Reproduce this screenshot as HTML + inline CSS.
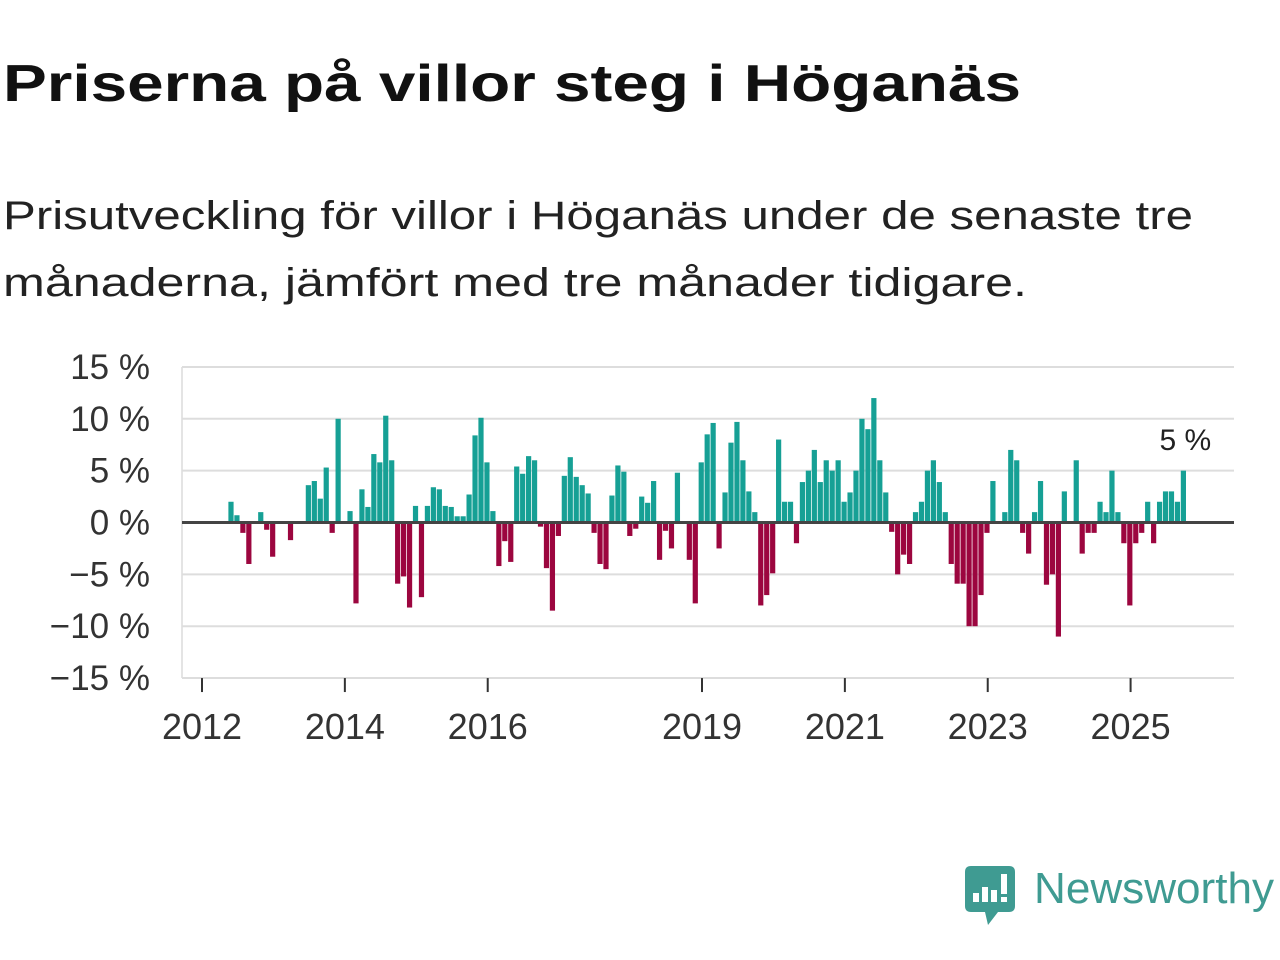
<!DOCTYPE html>
<html><head><meta charset="utf-8"><style>
body{margin:0;background:#fff;}
svg{display:block;font-family:"Liberation Sans",sans-serif;}
</style></head><body>
<svg width="1280" height="960" viewBox="0 0 1280 960">
<text x="3" y="101" font-size="52" font-weight="bold" fill="#111" textLength="1018" lengthAdjust="spacingAndGlyphs">Priserna på villor steg i Höganäs</text>
<text x="3" y="229" font-size="40" fill="#222" textLength="1190" lengthAdjust="spacingAndGlyphs">Prisutveckling för villor i Höganäs under de senaste tre</text>
<text x="3" y="296" font-size="40" fill="#222" textLength="1024" lengthAdjust="spacingAndGlyphs">månaderna, jämfört med tre månader tidigare.</text>
<g id="plot"></g>
<g>
<path d="M971 866 H1009 Q1015 866 1015 872 V906 Q1015 912 1009 912 H998 L988 925 L985 912 H971 Q965 912 965 906 V872 Q965 866 971 866 Z" fill="#3f9b92"/>
<rect x="973" y="893" width="6" height="9" fill="#fff"/>
<rect x="982" y="887" width="6" height="15" fill="#fff"/>
<rect x="991" y="890" width="6" height="12" fill="#fff"/>
<rect x="1001" y="874" width="6" height="20" fill="#fff"/>
<rect x="1001" y="897" width="6" height="5" fill="#fff"/>
<text x="1034" y="903" font-size="44" fill="#3f9b92" textLength="240" lengthAdjust="spacingAndGlyphs">Newsworthy</text>
</g>
</svg>
<script>
const yTicks = [15, 10, 5, 0, -5, -10, -15];
const yTickLabels = ["15 %", "10 %", "5 %", "0 %", "−5 %", "−10 %", "−15 %"];
const xTicks = [2012, 2014, 2016, 2019, 2021, 2023, 2025];
const startYear = 2012;
const startMonth = 5;
const values = [2,0.7,-1,-4,0,1,-0.7,-3.3,0,0,-1.7,0,0,3.6,4,2.3,5.3,-1,10,0,1.1,-7.8,3.2,1.5,6.6,5.8,10.3,6,
-5.9,-5.2,-8.2,1.6,-7.2,1.6,3.4,3.2,1.6,1.5,0.6,0.6,2.7,8.4,10.1,5.8,1.1,-4.2,-1.8,-3.8,5.4,4.7,6.4,6,-0.4,-4.4,-8.5,-1.3,4.5,6.3,4.4,3.6,2.8,
-1,-4,-4.5,2.6,5.5,4.9,-1.3,-0.6,2.5,1.9,4,-3.6,-0.8,-2.5,4.8,-0.1,-3.6,-7.8,5.8,8.5,9.6,-2.5,2.9,7.7,9.7,6,3,1,-8,-7,-4.9,8,
2,2,-2,3.9,5,7,3.9,6,5,6,2,2.9,5,10,9,12,6,2.9,-0.9,-5,-3.1,-4,1,2,5,6,3.9,1,-4,-5.9,-5.9,-10,
-10,-7,-1,4,0,1,7,6,-1,-3,1,4,-6,-5,-11,3,0,6,-3,-1,-1,2,1,5,1,-2,-8,-2,-1,2,-2,2,3,3,2,5];
const lastLabel = "5 %";

const NS = "http://www.w3.org/2000/svg";
const plot = document.getElementById("plot");
function xScale(yr){ return 202 + (yr - 2012) * 71.43; }
function yScale(v){ return 522.5 - v * 10.37; }
function mk(tag, attrs){ const e = document.createElementNS(NS, tag); for (const k in attrs) e.setAttribute(k, attrs[k]); plot.appendChild(e); return e; }

const axisLine = mk("line", {x1:182, x2:182, y1:yScale(15), y2:yScale(-15), stroke:"#e4e4e4", "stroke-width":2});



yTicks.forEach((t, i) => {
  if (t !== 0) {
    const g = mk("line", {x1:182, x2:1234, y1:yScale(t), y2:yScale(t), stroke:"#dddddd", "stroke-width":2});
    
    
  }
  const tx = mk("text", {x:150, y:yScale(t) + 12, "text-anchor":"end", "font-size":35, fill:"#333"});
  tx.textContent = yTickLabels[i];
  
  
});

xTicks.forEach(t => {
  const x = xScale(t);
  const tk = mk("line", {x1:x, x2:x, y1:yScale(-15), y2:yScale(-15) + 14, stroke:"#333", "stroke-width":2});
  
  
  const tx = mk("text", {x:x, y:739, "text-anchor":"middle", "font-size":36, fill:"#333"});
  tx.textContent = String(t);
  
  
});

values.forEach((v, i) => {
  const cx = xScale(startYear + (startMonth + i - 0.13) / 12);
  const y0 = yScale(0), y1 = yScale(v);
  const r = mk("rect", {x:cx - 2.6, y:Math.min(y0, y1), width:5.2, height:Math.abs(y1 - y0), fill: v >= 0 ? "#16a095" : "#9c063f"});
  
  
});

const zero = mk("line", {x1:182, x2:1234, y1:yScale(0), y2:yScale(0), stroke:"#444", "stroke-width":3});



const lastX = xScale(startYear + (startMonth + values.length - 1 - 0.13) / 12);
const lbl = mk("text", {x:lastX + 2, y:450, "text-anchor":"middle", "font-size":30, fill:"#222"});
lbl.textContent = lastLabel;


</script>
</body></html>
